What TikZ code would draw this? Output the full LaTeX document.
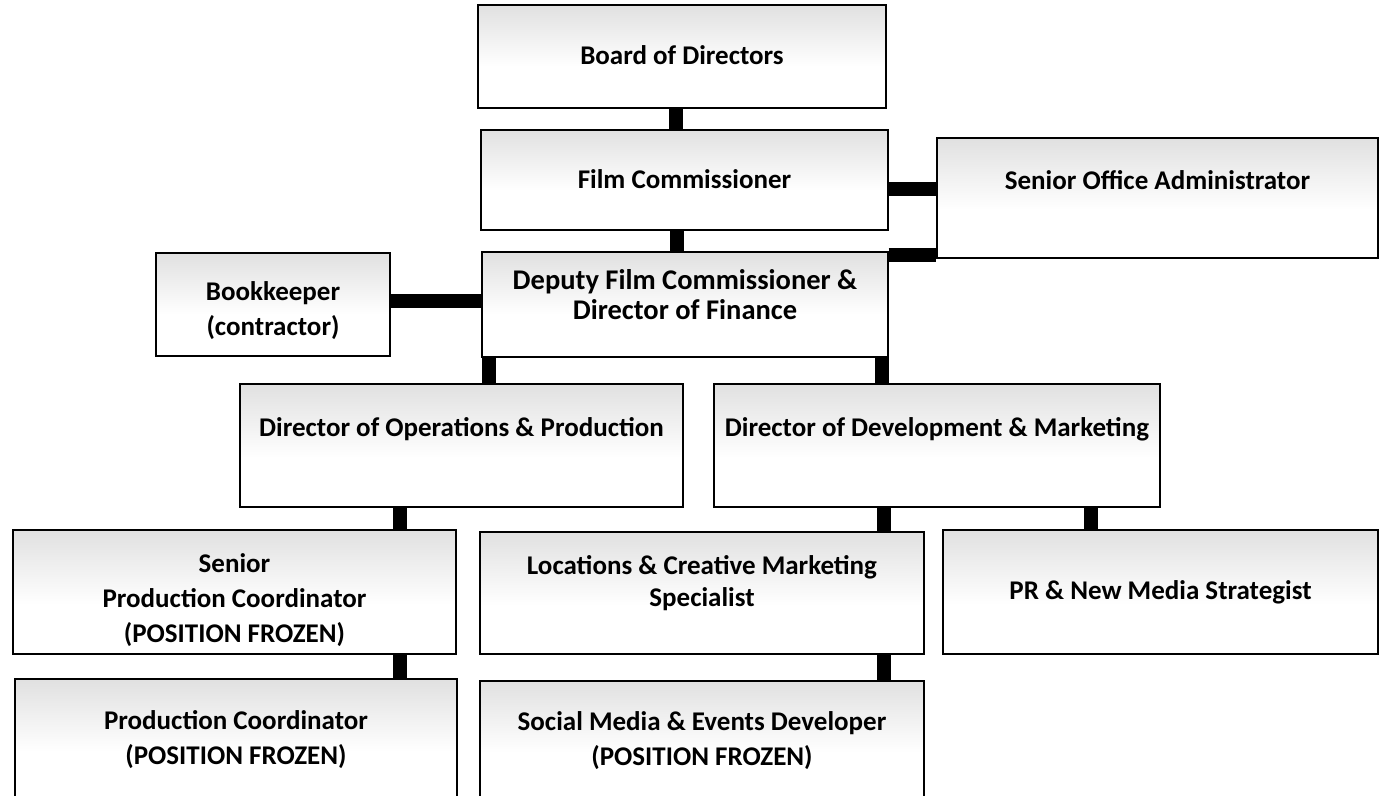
\documentclass[tikz,border=0pt]{standalone}
\usepackage{fontspec}
\setmainfont{Carlito}
\pgfdeclareverticalshading{boxshade}{100bp}{color(0bp)=(white); color(45bp)=(white); color(75bp)=(black!12); color(100bp)=(black!26)}
\tikzset{
  orgbox/.style={draw=black, line width=1.3pt, shading=boxshade, inner sep=0pt, align=center,
    font=\bfseries\fontsize{27}{35}\selectfont, text=black},
  conn/.style={line width=14pt, black, line cap=butt},
}
\begin{document}
\begin{tikzpicture}[x=1pt,y=-1pt]
\useasboundingbox (0,0) rectangle (1381,795);
% boxes
\node[orgbox, minimum width=408pt, minimum height=103pt, text depth=2pt] (board) at (682,56.5) {Board of Directors};
\node[orgbox, minimum width=407pt, minimum height=100pt, text depth=2pt] (film) at (684.5,180) {Film Commissioner};
\node[orgbox, minimum width=441pt, minimum height=120pt, text depth=36pt] (soa) at (1157.5,198) {Senior Office Administrator};
\node[orgbox, minimum width=406pt, minimum height=105pt, text depth=20pt,
      font=\bfseries\fontsize{28.5}{30}\selectfont] (deputy) at (685,304.5) {Deputy Film Commissioner \&\\Director of Finance};
\node[orgbox, minimum width=234pt, minimum height=103pt] (book) at (273,304.5) {\rule{0pt}{32pt}Bookkeeper\\(contractor)};
\node[orgbox, minimum width=443pt, minimum height=123pt, text depth=36pt] (dirops) at (461.5,445.5) {Director of Operations \& Production};
\node[orgbox, minimum width=446pt, minimum height=123pt, text depth=36pt] (dirdev) at (937,445.5) {Director of Development \& Marketing};
\node[orgbox, minimum width=443pt, minimum height=124pt] (spc) at (234.5,592) {\rule{0pt}{36pt}Senior\\Production Coordinator\\(POSITION FROZEN)};
\node[orgbox, minimum width=444pt, minimum height=122pt, text depth=24pt,
      font=\bfseries\fontsize{27}{32}\selectfont] (lcm) at (702,593) {Locations \& Creative Marketing\\Specialist};
\node[orgbox, minimum width=435pt, minimum height=124pt] (pr) at (1160.5,592) {PR \& New Media Strategist};
\node[orgbox, minimum width=442pt, minimum height=121pt] (pc) at (236,739.5) {Production Coordinator\\(POSITION FROZEN)};
\node[orgbox, minimum width=444pt, minimum height=119pt] (smed) at (702,740.5) {Social Media \& Events Developer\\(POSITION FROZEN)};
% connectors
\draw[conn] ([xshift=-6pt]board.south) -- ([xshift=-6pt]board.south |- film.north);
\draw[conn] ([xshift=-8pt]film.south) -- ([xshift=-8pt]film.south |- deputy.north);
\draw[conn] ([yshift=-9pt]film.east) -- ([yshift=-9pt]film.east -| soa.west);
\draw[conn] ([yshift=-4pt]deputy.north east) -- ([yshift=-4pt]deputy.north east -| soa.west);
\draw[conn] ([yshift=3.5pt]book.east) -- ([yshift=3.5pt]book.east -| deputy.west);
\draw[conn] ([xshift=8pt]deputy.south west) -- ([xshift=8pt]deputy.south west |- dirops.north);
\draw[conn] ([xshift=-7pt]deputy.south east) -- ([xshift=-7pt]deputy.south east |- dirdev.north);
\draw[conn] ([xshift=-61.5pt]dirops.south) -- ([xshift=-61.5pt]dirops.south |- spc.north);
\draw[conn] ([xshift=165.5pt]spc.south) -- ([xshift=165.5pt]spc.south |- pc.north);
\draw[conn] ([xshift=-53pt]dirdev.south) -- ([xshift=-53pt]dirdev.south |- lcm.north);
\draw[conn] ([xshift=182pt]lcm.south) -- ([xshift=182pt]lcm.south |- smed.north);
\draw[conn] ([xshift=153.5pt]dirdev.south) -- ([xshift=153.5pt]dirdev.south |- pr.north);
\end{tikzpicture}
\end{document}
